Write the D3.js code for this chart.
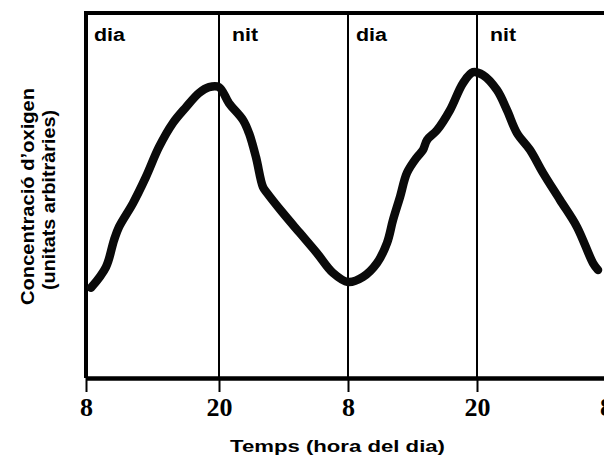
<!DOCTYPE html>
<html>
<head>
<meta charset="utf-8">
<script src="https://cdn.jsdelivr.net/npm/d3@7"></script>
<style>
  html, body { margin: 0; padding: 0; background: #fff; }
  svg { display: block; }
</style>
</head>
<body>
<svg id="chart" width="604" height="460"></svg>
<script>
// ---- data ----
const hours = [8.45, 9.80, 10.53, 10.98, 12.24, 13.41, 14.59, 15.85, 17.02, 18.20, 19.10, 20.00,
  20.93, 22.23, 22.79, 23.44, 24.09, 24.47, 25.95, 27.53, 29.12, 30.60, 32.00, 33.40, 34.70,
  35.63, 36.19, 36.84, 37.49, 38.42, 38.98, 39.35, 40.28, 41.49, 42.70, 43.63, 44.56, 45.86,
  46.79, 47.72, 48.93, 50.14, 51.72, 53.30, 54.79, 55.26];
const oxygen = [24.7, 30.4, 37.8, 41.4, 47.9, 55.1, 63.3, 69.9, 74.2, 78.1, 79.7, 79.7,
  75.3, 70.7, 67.1, 60.5, 52.3, 50.7, 45.2, 39.7, 34.2, 28.8, 26.3, 27.7, 31.5,
  37.0, 43.3, 49.6, 56.2, 60.5, 62.5, 65.2, 67.9, 73.4, 80.8, 83.8, 83.0, 78.9,
  73.4, 67.1, 62.5, 56.2, 48.8, 41.4, 31.5, 29.6];
const tickHours = [8, 20, 32, 44, 56];
const tickLabels = ["8", "20", "8", "20", "8"];
const dividerHours = [20, 32, 44];
const periodNames = ["dia", "nit", "dia", "nit"];
const periodStarts = [8, 20, 32, 44];
const xTitle = "Temps (hora del dia)";
const yTitle = ["Concentració d\u2019oxigen", "(unitats arbitràries)"];

// ---- layout ----
const svg = d3.select("#chart");
const mLeft = 86, mTop = 13, mBottom = 378;
const x = d3.scaleLinear().domain([8, 20, 56]).range([mLeft, 219, 606]);
const y = d3.scaleLinear().domain([0, 100]).range([mBottom, mTop]);

// divider lines
svg.append("g").selectAll("line").data(dividerHours).join("line")
  .attr("x1", d => x(d)).attr("x2", d => x(d))
  .attr("y1", mTop).attr("y2", mBottom)
  .attr("stroke", "#000").attr("stroke-width", 2);

// frame: top and left
svg.append("line").attr("x1", mLeft).attr("x2", 604).attr("y1", mTop).attr("y2", mTop)
  .attr("stroke", "#000").attr("stroke-width", 4);
svg.append("line").attr("x1", mLeft).attr("x2", mLeft).attr("y1", mTop - 2).attr("y2", mBottom)
  .attr("stroke", "#000").attr("stroke-width", 4);

// x axis
const xAxis = d3.axisBottom(x).tickValues(tickHours)
  .tickFormat((d, i) => tickLabels[i]).tickSize(14).tickSizeOuter(0).tickPadding(6);
const gx = svg.append("g").attr("transform", `translate(0,${mBottom})`).call(xAxis);
gx.select(".domain").attr("stroke", "#000").attr("stroke-width", 4.5);
gx.selectAll(".tick line").attr("stroke", "#000").attr("stroke-width", 2);
gx.selectAll(".tick text")
  .attr("font-family", "'Liberation Serif', 'Times New Roman', serif")
  .attr("font-weight", "bold").attr("font-size", 26).attr("fill", "#000")
  .attr("dy", "0.71em");

// period labels
svg.append("g").selectAll("text").data(periodNames).join("text")
  .attr("x", (d, i) => x(periodStarts[i]) + (d === "dia" ? 8 : 13))
  .attr("y", 41)
  .attr("font-family", "'Liberation Sans', Arial, sans-serif")
  .attr("font-weight", "bold").attr("font-size", 18)
  .attr("textLength", d => d === "dia" ? 31 : 26)
  .attr("lengthAdjust", "spacingAndGlyphs")
  .text(d => d);

// curve
const pts = hours.map((h, i) => [h, oxygen[i]]);
svg.append("path").datum(pts)
  .attr("fill", "none").attr("stroke", "#0a0a0a").attr("stroke-width", 8.5)
  .attr("stroke-linejoin", "round").attr("stroke-linecap", "round")
  .attr("d", d3.line().x(d => x(d[0])).y(d => y(d[1])).curve(d3.curveCatmullRom.alpha(0.5)));

// x title
svg.append("text").attr("x", 230).attr("y", 452)
  .attr("font-family", "'Liberation Sans', Arial, sans-serif")
  .attr("font-weight", "bold").attr("font-size", 17)
  .attr("textLength", 215).attr("lengthAdjust", "spacingAndGlyphs")
  .text(xTitle);

// y title
const yt = svg.append("g");
yt.append("text").attr("transform", "translate(34,196.5) rotate(-90)")
  .attr("text-anchor", "middle")
  .attr("font-family", "'Liberation Sans', Arial, sans-serif")
  .attr("font-weight", "bold").attr("font-size", 18)
  .attr("textLength", 217).attr("lengthAdjust", "spacingAndGlyphs")
  .text(yTitle[0]);
yt.append("text").attr("transform", "translate(55,200) rotate(-90)")
  .attr("text-anchor", "middle")
  .attr("font-family", "'Liberation Sans', Arial, sans-serif")
  .attr("font-weight", "bold").attr("font-size", 18)
  .attr("textLength", 180).attr("lengthAdjust", "spacingAndGlyphs")
  .text(yTitle[1]);
</script>
</body>
</html>
